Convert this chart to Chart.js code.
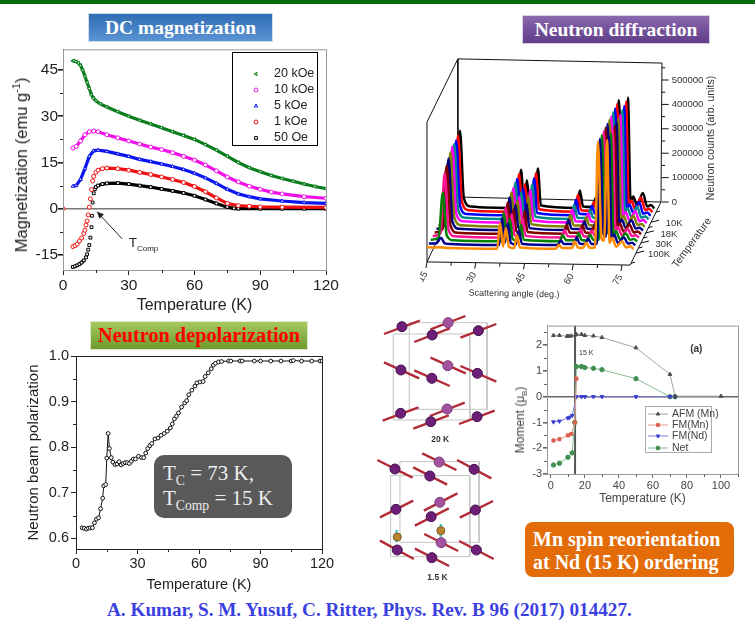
<!DOCTYPE html>
<html lang="en">
<head>
    <meta charset="UTF-8">
    <title>Mn spin reorientation</title>
    <style>
        * { margin: 0; padding: 0; box-sizing: border-box; }
        body { width: 755px; height: 620px; background: #fff; position: relative; overflow: hidden; font-family: "Liberation Sans", Arial, sans-serif; }
        canvas { position: absolute; }
        .topbar { position: absolute; left: 0; top: 0; width: 755px; height: 4px; background: #086a08; }
        .badge { position: absolute; display: flex; align-items: center; justify-content: center; font-family: "Liberation Serif", serif; font-weight: bold; font-size: 19.5px; color: #fff; }
        .txt { position: absolute; white-space: nowrap; }
        .rot { transform: translate(-50%, -50%) rotate(-90deg); }
        sub, sup { font-size: 65%; line-height: 0; }
    </style>
</head>
<body>
    <div class="topbar"></div>

    <div class="badge" style="left:88px;top:13px;width:185px;height:29px;background:linear-gradient(#2f6db4,#5b93d3);border:1px solid #cfdcea;">DC magnetization</div>
    <div class="badge" style="left:522px;top:15px;width:188px;height:29px;background:linear-gradient(#8a68ae,#5f3d88);border:1px solid #d8cfe2;">Neutron diffraction</div>
    <div class="badge" style="left:90px;top:321px;width:218px;height:29px;font-size:20.3px;background:linear-gradient(#a6c860,#6d9a2c);color:#f00;border:1px solid #dde8c8;">Neutron depolarization</div>

    <canvas id="magChart" width="345" height="275" style="left:0;top:40px"></canvas>
    <canvas id="diffChart" width="320" height="250" style="left:420px;top:50px;filter:blur(.35px)"></canvas>
    <canvas id="polChart" width="345" height="249" style="left:0;top:345px"></canvas>
    <canvas id="cellChart" width="133" height="280" style="left:370px;top:310px;filter:blur(.5px)"></canvas>
    <canvas id="momentChart" width="240" height="188" style="left:515px;top:318px;filter:blur(.6px)"></canvas>

    <div class="txt rot" style="left:22px;top:165px;font-size:16.6px;color:#222;">Magnetization (emu g<sup>-1</sup>)</div>
    <div class="txt" style="left:129px;top:235px;font-size:13px;color:#222;">T<sub style="font-size:8px">Comp</sub></div>
    <div class="txt rot" style="left:520px;top:420px;font-size:12px;color:#444;filter:blur(.4px)">Moment (&mu;<sub>B</sub>)</div>

    <div class="txt" style="left:154px;top:455px;width:138px;height:63px;background:#595959;border-radius:10px;"></div>
    <div class="txt" style="left:163px;top:461px;font:21px 'Liberation Serif',serif;color:#eee;line-height:25px;">T<sub>C</sub> = 73 K,<br>T<sub>Comp</sub> = 15 K</div>

    <div class="txt" style="left:525px;top:522px;width:209px;height:55px;background:#e36c09;border-radius:8px;"></div>
    <div class="txt" style="left:533px;top:528px;font:bold 20px 'Liberation Serif',serif;color:#fff;line-height:23px;">Mn spin reorientation<br>at Nd (15 K) ordering</div>

    <div class="txt" style="left:107px;top:599px;font:bold 19.2px 'Liberation Serif',serif;color:#3b3fe0;">A. Kumar, S. M. Yusuf, C. Ritter, Phys. Rev. B 96 (2017) 014427.</div>

    <script src="https://cdn.jsdelivr.net/npm/chart.js"></script>
    <script>
        // DC magnetization
        const magXTicks = [0, 30, 60, 90, 120];
        const magYTicks = [-15, 0, 15, 30, 45];
        const t20k = [4.5,5,6,7,8,9,10,11,12,13,14,15,17,20,25,30,35,40,45,50,55,60,65,70,75,80,85,90,95,100,105,110,115,120];
        const m20k = [48,48,47.7,47.3,46.5,45,43,41,39,37,35.8,35,34,33,31.5,30,28.7,27.5,26.3,25,23.8,22.5,20.8,19,17,15,13.3,12,10.8,9.8,8.9,8,7.2,6.5];
        const t10k = [4.5,6,8,10,12,14,16,20,25,30,35,40,45,50,55,60,65,70,75,80,85,90,95,100,110,120];
        const m10k = [19.7,20.2,22,24,25,25.2,25,24,23,22,21,20,19.2,18.2,17,15.8,14.2,12.3,10.3,8.7,7.3,6.3,5.4,4.8,3.9,3.4];
        const t5k = [4.5,6,8,10,12,14,16,20,25,30,35,40,45,50,55,60,65,70,75,80,85,90,100,110,120];
        const m5k = [7.3,7.5,9.5,13,17,18.8,19,18.6,17.8,17,16,15.3,14.5,13.7,12.7,11.5,10,8.2,6.3,4.8,3.9,3.2,2.5,2,1.7];
        const t1k = [0,4.5,5.5,6.5,7.5,8.5,9.5,10,10.5,11,11.5,12,12.5,13,13.5,14,15,16,18,20,25,30,35,40,45,50,55,60,65,70,75,80,85,90,100,120];
        const m1k = [0,-12.3,-12,-11.5,-10.5,-9.5,-8,-7,-5.3,-4,-2,0.5,3.2,6.2,9,10.5,11.8,12.5,13,13.2,13,12.5,11.8,11.1,10.3,9.5,8.5,7.2,5.5,3.5,1.7,1,0.8,0.6,0.5,0.4];
        const t50 = [4.5,5.5,6.5,7.5,8.5,9.5,10.5,11,11.5,12,12.5,13,13.2,13.5,14,14.5,15,16,18,20,25,30,35,40,45,50,55,60,65,70,75,78,80,90,100,110,120];
        const m50 = [-18.9,-18.7,-18.4,-18,-17.5,-16.8,-15.8,-14.8,-13.3,-11.8,-9.4,-6,-2.3,2,5,6.3,7,7.5,8,8.2,8.3,8,7.5,7,6.4,5.8,5.1,4.2,3,1.7,0.5,0.1,0,0,0,0,0];

        // Neutron depolarization
        const polXTicks = [0, 30, 60, 90, 120];
        const polYTicks = [0.6, 0.7, 0.8, 0.9, 1.0];
        const polYLabels = ["0.6", "0.7", "0.8", "0.9", "1.0"];
        const polT = [3,4,5,6,7,8,9,10,11,12,13,13.5,14.5,15,15.7,16.3,17.2,18,19,20,21,22,23,24,25,26,27,28,29,30.5,32,33,34,35,36,37,38.5,40,41.5,43,44.5,46,47,48,49,50,51.5,53,54,55,56.5,58,59,60.5,62,63,64.5,66,67,68,69.5,71,74.5,75.5,80,81,87,90,95,100,105,106,110,115,119,120];
        const polP = [.623,.622,.62,.622,.623,.623,.634,.642,.645,.665,.688,.715,.718,.776,.83,.797,.777,.767,.762,.763,.768,.761,.764,.766,.766,.764,.769,.774,.774,.78,.777,.777,.787,.797,.803,.808,.818,.82,.826,.83,.835,.842,.851,.862,.868,.875,.888,.897,.902,.915,.925,.934,.941,.943,.944,.955,.963,.972,.98,.984,.987,.988,.989,.989,.989,.989,.989,.989,.989,.989,.989,.99,.989,.989,.989,.989];

        // Moment vs temperature
        const momXTicks = [0, 20, 40, 60, 80, 100];
        const momYTicks = [-3, -2, -1, 0, 1, 2];
        const afmT = [1.5,5,9.5,10.5,12,14.5,15,18,20,25,30,50,70,73,100];
        const afmM = [2.38,2.38,2.35,2.35,2.36,2.4,2.42,2.42,2.38,2.36,2.3,1.9,0.87,0.02,0.02];
        const fmMnT = [1.5,5,10,12,14,15];
        const fmMnM = [-1.7,-1.65,-1.5,-1.45,-1,0.7];
        const fmNdT = [1.5,5,10,11,12.5,15,18,20,25,30,50,70,73];
        const fmNdM = [-.98,-.95,-.83,-.8,-.73,0,0,0,0,0,0,0,0];
        const netT = [1.5,5,10,12.5,14,15,18,20,25,30,50,70,73];
        const netM = [-2.65,-2.58,-2.35,-2.18,-1,1.17,1.17,1.13,1.1,1.05,.7,0,0];

        // Neutron diffraction, counts in thousands, back (black) to front (orange)
        const diffAngles = [15,17.4,18.7,19.9,22,36.6,37.5,38.4,39.3,40.2,41.8,42.7,43.6,54.6,55.6,56.6,59.6,60.5,61.4,63,64,65,66.7,67.6,68.7,69.5,70.4,71.2,72,73.2,75,76.3,77.5,78.5];
        const diffColors = ["#000000","#ff0000","#0000ff","#008b8b","#ff00ff","#808000","#000080","#800000","#ff1493","#008000","#000090","#ff8c00"];
        const diff01 = [14,30,325,50,14,8,165,22,122,20,10,170,18,8,80,14,12,50,14,12,42,14,14,450,55,45,460,35,55,18,70,14,20,6];
        const diff02 = [14,30,320,48,14,8,162,22,120,20,10,165,18,8,76,14,12,48,14,12,41,14,14,448,55,45,458,35,54,18,66,14,20,6];
        const diff03 = [13,30,315,47,13,8,158,21,118,19,10,160,17,8,72,14,12,47,14,12,40,14,14,446,54,44,455,34,53,18,62,14,19,6];
        const diff04 = [13,28,315,46,13,8,155,21,116,19,10,150,17,8,66,13,12,46,14,12,39,13,14,445,54,44,452,34,52,17,58,14,18,6];
        const diff05 = [13,28,320,45,13,8,150,20,114,18,9,140,16,8,60,13,12,45,13,11,38,13,13,444,53,43,450,33,51,17,54,13,18,6];
        const diff06 = [12,27,310,44,12,7,146,20,112,18,9,130,16,7,54,12,11,44,13,11,37,13,13,443,53,43,449,33,50,16,50,13,17,5];
        const diff07 = [12,26,300,42,12,7,140,19,110,17,9,115,15,7,48,12,11,42,13,11,36,12,13,442,52,42,448,32,50,16,47,13,17,5];
        const diff08 = [12,25,285,40,11,7,134,18,106,16,8,100,14,7,42,11,11,41,12,10,35,12,12,441,52,42,447,32,49,15,44,12,16,5];
        const diff09 = [12,24,270,36,11,6,128,18,102,16,8,85,13,6,36,11,10,40,12,10,34,11,12,441,51,41,446,31,49,15,41,12,16,5];
        const diff10 = [12,20,205,30,10,6,122,16,98,15,8,74,12,6,30,10,10,38,11,9,33,11,12,440,50,40,446,30,48,14,38,12,15,5];
        const diff11 = [12,13,35,12,9,5,116,15,94,14,7,66,11,5,24,9,9,36,11,9,31,10,11,440,50,40,448,30,48,14,36,11,15,4];
        const diff12 = [12,10,11,10,8,5,110,14,90,13,7,60,10,5,20,8,8,35,10,8,30,9,10,443,48,38,450,28,50,13,35,10,15,4];
        const diffSeries = [diff01,diff02,diff03,diff04,diff05,diff06,diff07,diff08,diff09,diff10,diff11,diff12];
        const angleTicks = [15, 30, 45, 60, 75];
        const countTicks = [0, 100, 200, 300, 400, 500];
        const countLabels = ["0", "100000", "200000", "300000", "400000", "500000"];
        const tempLabels = ["10K", "18K", "30K", "100K"];

        // Crystal cells, [x1, y1, x2, y2] for edges and spins, [x, y] for atoms
        const cellEdges = [
            [70,72,300,72],[300,72,300,330],[300,330,70,330],[70,330,70,72],
            [118,38,352,38],[352,38,352,298],[352,298,118,298],[118,298,118,38],
            [62,497,300,497],[300,497,300,740],[300,740,62,740],[62,740,62,497],
            [90,455,328,455],[328,455,328,697],[328,697,90,697],[90,697,90,455]
        ];
        const mnSpins = [
            [42,72,150,32],[182,58,287,18],[133,96,240,55],[272,83,380,42],
            [42,157,148,205],[182,143,288,190],[133,181,240,228],[272,168,380,215],
            [38,332,146,292],[180,318,285,278],[130,356,237,316],[268,342,375,302],
            [22,450,128,503],[157,430,260,480],[130,472,232,524],[262,450,365,505],
            [30,622,130,572],[162,602,263,550],[135,647,237,595],[270,623,370,573],
            [30,692,132,747],[163,672,265,723],[135,716,238,768],[268,693,372,747]
        ];
        const mnAtomsFront = [[96,50],[187,75],[326,62],[93,180],[186,205],[323,190],[92,310],[183,335],[322,320],[75,477],[180,498],[313,478],[78,598],[184,620],[317,600],[82,720],[186,743],[320,720]];
        const mnAtomsBack = [[235,38],[234,167],[232,297],[208,456],[210,577],[214,698]];
        const ndSpins = [[80,660,80,697],[213,642,213,680]];
        const ndAtoms = [[82,681],[213,662]];

        function xy(xs, ys) {
            return xs.map((x, i) => ({ x: x, y: ys[i] }));
        }
        function segments(list) {
            const out = [];
            list.forEach(s => {
                out.push({ x: s[0], y: s[1] }, { x: s[2], y: s[3] }, { x: NaN, y: NaN });
            });
            return out;
        }
        function points(list) {
            return list.map(p => ({ x: p[0], y: p[1] }));
        }
        function fixedTicks(list) {
            return scale => { scale.ticks = list.map(v => ({ value: v })); };
        }

        // minor ticks and the thin top/right frame lines
        Chart.register({
            id: "frameTicks",
            afterDraw(chart, args, opts) {
                if (!opts.color) return;
                const ctx = chart.ctx, a = chart.chartArea, sx = chart.scales.x, sy = chart.scales.y;
                ctx.save();
                ctx.strokeStyle = opts.color;
                ctx.lineWidth = 1;
                ctx.strokeRect(a.left + .5, a.top + .5, a.right - a.left, a.bottom - a.top);
                ctx.strokeStyle = opts.tickColor;
                (opts.minorX || []).forEach(v => {
                    const x = Math.round(sx.getPixelForValue(v)) + .5;
                    ctx.beginPath(); ctx.moveTo(x, a.bottom); ctx.lineTo(x, a.bottom + 3); ctx.stroke();
                });
                (opts.minorY || []).forEach(v => {
                    const y = Math.round(sy.getPixelForValue(v)) + .5;
                    ctx.beginPath(); ctx.moveTo(a.left, y); ctx.lineTo(a.left - 3, y); ctx.stroke();
                });
                ctx.restore();
            }
        });

        // legend in a box placed by hand
        Chart.register({
            id: "boxLegend",
            afterDraw(chart, args, opts) {
                if (!opts.box) return;
                const ctx = chart.ctx;
                ctx.save();
                ctx.strokeStyle = opts.border;
                ctx.lineWidth = opts.borderWidth;
                ctx.strokeRect(opts.box[0], opts.box[1], opts.box[2], opts.box[3]);
                chart.data.datasets.forEach((ds, i) => {
                    const y = opts.rows[i];
                    if (opts.lineFrom !== undefined) {
                        ctx.strokeStyle = ds.borderColor;
                        ctx.lineWidth = 1;
                        ctx.beginPath(); ctx.moveTo(opts.lineFrom, y); ctx.lineTo(opts.lineTo, y); ctx.stroke();
                    }
                    ctx.strokeStyle = ds.pointBorderColor;
                    ctx.fillStyle = ds.pointBackgroundColor;
                    ctx.lineWidth = 1;
                    Chart.helpers.drawPoint(ctx, {
                        pointStyle: ds.pointStyle, rotation: ds.pointRotation || 0,
                        radius: opts.markerSize, borderWidth: 1
                    }, opts.markerX, y);
                    ctx.fillStyle = opts.textColor;
                    ctx.font = opts.font;
                    ctx.textAlign = "left";
                    ctx.textBaseline = "middle";
                    ctx.fillText(ds.label, opts.textX, y);
                });
                ctx.restore();
            }
        });

        function magSet(label, color, style, xs, ys, gap, rotation) {
            return {
                label: label, data: xy(xs, ys), showLine: true, borderColor: color, borderWidth: 3.2,
                pointStyle: style, pointRotation: rotation || 0, pointRadius: 2, pointBorderWidth: 1,
                pointBorderColor: color, pointBackgroundColor: "#fff",
                // the steep part at low temperature shows single markers, no line
                segment: { borderColor: c => c.p0.parsed.x < 15 && Math.abs(c.p1.parsed.y - c.p0.parsed.y) > gap ? "transparent" : color }
            };
        }

        new Chart(document.getElementById("magChart"), {
            type: "scatter",
            data: { datasets: [
                magSet("20 kOe", "#0a7d1c", "triangle", t20k, m20k, 50, -90),
                magSet("10 kOe", "#f010e8", "circle", t10k, m10k, 50),
                magSet("5 kOe", "#0a14f0", "triangle", t5k, m5k, 50),
                magSet("1 kOe", "#f01010", "circle", t1k, m1k, 0.9),
                magSet("50 Oe", "#000000", "rect", t50, m50, 0.9)
            ] },
            plugins: [{
                id: "compArrow",
                afterDraw(chart) {
                    const ctx = chart.ctx, sx = chart.scales.x, sy = chart.scales.y;
                    const x1 = sx.getPixelForValue(27), y1 = sy.getPixelForValue(-9.8);
                    const x2 = sx.getPixelForValue(15.5), y2 = sy.getPixelForValue(-1);
                    ctx.save();
                    ctx.strokeStyle = ctx.fillStyle = "#222";
                    ctx.lineWidth = 1;
                    ctx.beginPath(); ctx.moveTo(x1, y1); ctx.lineTo(x2, y2); ctx.stroke();
                    ctx.beginPath(); ctx.moveTo(x2, y2); ctx.lineTo(x2 + 7, y2 + 2.5); ctx.lineTo(x2 + 2.5, y2 + 7); ctx.fill();
                    ctx.restore();
                }
            }],
            options: {
                responsive: false, animation: false,
                layout: { autoPadding: false, padding: { top: 9, right: 19 } },
                plugins: {
                    legend: { display: false }, tooltip: { enabled: false },
                    frameTicks: { color: "#999", tickColor: "#222", minorX: [15, 45, 75, 105], minorY: [-7.5, 7.5, 22.5, 37.5] },
                    boxLegend: {
                        box: [232.5, 12.5, 85, 93], border: "#000", borderWidth: 1, rows: [34, 50, 66, 82, 98],
                        markerX: 256, markerSize: 2, textX: 274, textColor: "#222", font: "12.5px 'Liberation Sans'"
                    }
                },
                scales: {
                    x: {
                        type: "linear", min: 0, max: 120, afterBuildTicks: fixedTicks(magXTicks),
                        afterFit: s => { s.height = 45; },
                        grid: { drawOnChartArea: false, tickLength: 5, tickColor: "#222" },
                        border: { color: "#222" },
                        ticks: { color: "#222", font: { size: 15.5 }, padding: 1, maxRotation: 0, autoSkip: false },
                        title: { display: true, text: "Temperature (K)", color: "#222", font: { size: 16 }, padding: { top: 0, bottom: 0 } }
                    },
                    y: {
                        min: -19.9, max: 51.75, afterBuildTicks: fixedTicks(magYTicks),
                        afterFit: s => { s.width = 63; },
                        grid: { color: c => c.tick && c.tick.value === 0 ? "#777" : "transparent", lineWidth: 1.6, tickLength: 5, tickColor: "#222" },
                        border: { color: "#222" },
                        ticks: { color: "#222", font: { size: 15.5 }, padding: 0, autoSkip: false }
                    }
                }
            }
        });

        new Chart(document.getElementById("polChart"), {
            type: "scatter",
            data: { datasets: [{
                label: "Polarization", data: xy(polT, polP), showLine: true, borderColor: "#111", borderWidth: 1,
                pointRadius: 1.9, pointBorderWidth: 1, pointBorderColor: "#111", pointBackgroundColor: "#fff"
            }] },
            options: {
                responsive: false, animation: false,
                layout: { autoPadding: false, padding: { top: 11, right: 23 } },
                plugins: {
                    legend: { display: false }, tooltip: { enabled: false },
                    frameTicks: { color: "#222", tickColor: "#222", minorX: [15, 45, 75, 105], minorY: [.65, .75, .85, .95] }
                },
                scales: {
                    x: {
                        type: "linear", min: 0, max: 120, afterBuildTicks: fixedTicks(polXTicks),
                        afterFit: s => { s.height = 45; },
                        grid: { drawOnChartArea: false, tickLength: 5, tickColor: "#222" },
                        border: { color: "#222" },
                        ticks: { color: "#222", font: { size: 14.5 }, padding: 1, maxRotation: 0, autoSkip: false },
                        title: { display: true, text: "Temperature (K)", color: "#222", font: { size: 14.5 }, padding: { top: 0, bottom: 0 } }
                    },
                    y: {
                        min: 0.5765, max: 1.0, afterBuildTicks: fixedTicks(polYTicks),
                        afterFit: s => { s.width = 76; },
                        grid: { drawOnChartArea: false, tickLength: 5, tickColor: "#222" },
                        border: { color: "#222" },
                        ticks: { color: "#222", font: { size: 14.5 }, padding: 2, autoSkip: false, callback: (v, i) => polYLabels[i] },
                        title: { display: true, text: "Neutron beam polarization", color: "#222", font: { size: 15 }, padding: { top: 25, bottom: 0 } }
                    }
                }
            }
        });

        function momSet(label, lineColor, color, style, xs, ys, rotation) {
            return {
                label: label, data: xy(xs, ys), showLine: true, borderColor: lineColor, borderWidth: 1,
                pointStyle: style, pointRotation: rotation || 0, pointRadius: 2.2, pointBorderWidth: 1,
                pointBorderColor: color, pointBackgroundColor: color
            };
        }

        new Chart(document.getElementById("momentChart"), {
            type: "scatter",
            data: { datasets: [
                momSet("AFM (Mn)", "#a5a5a5", "#4d4d4d", "triangle", afmT, afmM),
                momSet("FM(Mn)", "#e29a90", "#d9604f", "rect", fmMnT, fmMnM),
                momSet("FM(Nd)", "#7a7de0", "#3a3fd0", "triangle", fmNdT, fmNdM, 180),
                momSet("Net", "#86bd93", "#3f8f52", "circle", netT, netM)
            ] },
            plugins: [{
                id: "momentMarks",
                beforeDatasetsDraw(chart) {
                    const ctx = chart.ctx, a = chart.chartArea, x = chart.scales.x.getPixelForValue(14.2);
                    ctx.save();
                    ctx.strokeStyle = "#555";
                    ctx.lineWidth = 2;
                    ctx.beginPath(); ctx.moveTo(x, a.top); ctx.lineTo(x, a.bottom); ctx.stroke();
                    ctx.restore();
                },
                afterDraw(chart) {
                    const ctx = chart.ctx;
                    ctx.save();
                    ctx.fillStyle = "#333";
                    ctx.font = "bold 10px 'Liberation Sans'";
                    ctx.textAlign = "center";
                    ctx.textBaseline = "middle";
                    ctx.fillText("(a)", chart.scales.x.getPixelForValue(85.5), chart.scales.y.getPixelForValue(1.83));
                    ctx.font = "7px 'Liberation Sans'";
                    ctx.fillText("15 K", chart.scales.x.getPixelForValue(20.8), chart.scales.y.getPixelForValue(1.68));
                    ctx.restore();
                }
            }],
            options: {
                responsive: false, animation: false,
                layout: { autoPadding: false, padding: { top: 7, right: 17 } },
                plugins: {
                    legend: { display: false }, tooltip: { enabled: false },
                    frameTicks: { color: "#999", tickColor: "#666", minorX: [10, 30, 50, 70, 90, 110], minorY: [-2.5, -1.5, -.5, .5, 1.5, 2.5] },
                    boxLegend: {
                        box: [130.5, 88.5, 66, 46], border: "#aaa", borderWidth: 1, rows: [96, 107, 118, 130],
                        lineFrom: 133, lineTo: 153, markerX: 143, markerSize: 2, textX: 157, textColor: "#444", font: "10.5px 'Liberation Sans'"
                    }
                },
                scales: {
                    x: {
                        type: "linear", min: -2.3, max: 110, afterBuildTicks: fixedTicks(momXTicks),
                        afterFit: s => { s.height = 32; },
                        grid: { drawOnChartArea: false, tickLength: 4, tickColor: "#666" },
                        border: { color: "#999" },
                        ticks: { color: "#444", font: { size: 11 }, padding: 1, maxRotation: 0, autoSkip: false },
                        title: { display: true, text: "Temperature (K)", color: "#444", font: { size: 12 }, padding: { top: 0, bottom: 0 } }
                    },
                    y: {
                        min: -3, max: 2.76, afterBuildTicks: fixedTicks(momYTicks),
                        afterFit: s => { s.width = 32; },
                        grid: { color: c => c.tick && c.tick.value === 0 ? "#666" : "transparent", lineWidth: 1.6, tickLength: 4, tickColor: "#666" },
                        border: { color: "#999" },
                        ticks: { color: "#444", font: { size: 11 }, padding: 1, autoSkip: false }
                    }
                }
            }
        });

        // waterfall: every series is sheared by its place in the stack
        const depthStepAngle = 0.585, depthStepCounts = 14.9, baseShift = 8;
        const diffSets = diffSeries.map((vals, i) => {
            const depth = diffSeries.length - 1 - i;
            return {
                label: "Series " + (i + 1),
                data: diffAngles.map((a, j) => ({ x: a + depth * depthStepAngle, y: vals[j] - baseShift + depth * depthStepCounts })),
                showLine: true, borderColor: diffColors[i], borderWidth: 2.5, pointRadius: 0,
                cubicInterpolationMode: "monotone", order: depth
            };
        });
        // box edges of the 3D frame, in the same angle / kilocount units
        const boxEdges = [
            [15,-57,77.5,-70],[77.5,-70,87,188.5],[87,188.5,24.5,209],[24.5,209,15,-57],
            [15,-57,15,516],[15,516,24.5,775],[24.5,775,87.3,758],[87.3,758,87,188.5],[24.5,775,24.5,209]
        ];
        diffSets.push({
            label: "Box", data: segments(boxEdges), showLine: true, borderColor: "#111", borderWidth: 1,
            pointRadius: 0, order: 50
        });

        new Chart(document.getElementById("diffChart"), {
            type: "scatter",
            data: { datasets: diffSets },
            plugins: [{
                id: "boxAxes",
                afterDraw(chart) {
                    const ctx = chart.ctx, sx = chart.scales.x, sy = chart.scales.y;
                    const px = a => sx.getPixelForValue(a), py = k => sy.getPixelForValue(k);
                    const tick = (x, y, dx, dy) => { ctx.beginPath(); ctx.moveTo(x, y); ctx.lineTo(x + dx, y + dy); ctx.stroke(); };
                    const label = (text, x, y, rot) => {
                        ctx.save(); ctx.translate(x, y); ctx.rotate(rot); ctx.fillText(text, 0, 0); ctx.restore();
                    };
                    ctx.save();
                    ctx.strokeStyle = "#111";
                    ctx.fillStyle = "#333";
                    ctx.lineWidth = 1;
                    ctx.textAlign = "center";
                    ctx.textBaseline = "middle";
                    ctx.font = "9.5px 'Liberation Sans'";
                    // counts axis on the back wall
                    countTicks.forEach((c, i) => {
                        tick(px(87.2), py(188.5 + c), 7, 0);
                        if (c < 500) tick(px(87.2), py(188.5 + c + 50), 3.5, 0);
                        label(countLabels[i], px(87.2) + 10 + ctx.measureText(countLabels[i]).width / 2, py(188.5 + c), 0);
                    });
                    tick(px(87.2), py(188.5 + 550), 3.5, 0);
                    // angle axis on the front edge
                    const edge = a => -57 - (a - 15) * 0.208;
                    angleTicks.forEach(a => {
                        tick(px(a), py(edge(a)), -1, 6);
                        if (a < 75) tick(px(a + 7.5), py(edge(a + 7.5)), -.5, 3.5);
                        label(String(a), px(a) - 4, py(edge(a)) + 15, -Math.PI / 3);
                    });
                    // temperature axis on the right edge
                    const along = f => [px(87) + (px(77.5) - px(87)) * f, py(188.5) + (py(-70) - py(188.5)) * f];
                    [.32, .49, .65, .81].forEach((f, i) => {
                        const p = along(f);
                        tick(p[0], p[1], 8, -2);
                        label(tempLabels[i], p[0] + 23, p[1] + 1, 0);
                    });
                    [.16, .405, .57, .73, .97].forEach(f => {
                        const p = along(f);
                        tick(p[0], p[1], 4, -1);
                    });
                    ctx.font = "10.5px 'Liberation Sans'";
                    label("Temperature", px(87) + 31, py(188.5) + 41, -Math.PI * 0.3);
                    label("Neutron counts (arb. units)", px(87) + 50, py(188.5) - 64, -Math.PI / 2);
                    ctx.font = "9px 'Liberation Sans'";
                    label("Scattering angle (deg.)", px(15) + 87, py(-57) + 32, 0.02);
                    ctx.restore();
                }
            }],
            options: {
                responsive: false, animation: false,
                layout: { autoPadding: false },
                plugins: { legend: { display: false }, tooltip: { enabled: false } },
                scales: {
                    x: { type: "linear", display: false, min: 12.85, max: 111.31 },
                    y: { display: false, min: -213.1, max: 811.5 }
                }
            }
        });

        // crystal cells at 20 K and 1.5 K
        new Chart(document.getElementById("cellChart"), {
            type: "scatter",
            data: { datasets: [
                { label: "Nd", data: points(ndAtoms), pointRadius: 4, pointBackgroundColor: "#b9822e", pointBorderColor: "#7d5a1e", order: 1 },
                { label: "Mn", data: points(mnAtomsFront), pointRadius: 5, pointBackgroundColor: "#6d1f78", pointBorderColor: "#43124d", pointBorderWidth: 1, order: 2 },
                { label: "Mn back", data: points(mnAtomsBack), pointRadius: 5, pointBackgroundColor: "#a2529f", pointBorderColor: "#7a3a7a", pointBorderWidth: 1, order: 3 },
                { label: "Nd spin", data: segments(ndSpins), showLine: true, borderColor: "#3fc4c0", borderWidth: 2.5, pointRadius: 0, order: 4 },
                { label: "Mn spin", data: segments(mnSpins), showLine: true, borderColor: "#b22b38", borderWidth: 2.4, pointRadius: 0, order: 5 },
                { label: "Cell", data: segments(cellEdges), showLine: true, borderColor: "#c4c4c4", borderWidth: 1, pointRadius: 0, order: 6 }
            ] },
            plugins: [{
                id: "cellLabels",
                afterDraw(chart) {
                    const ctx = chart.ctx, sx = chart.scales.x, sy = chart.scales.y;
                    ctx.save();
                    ctx.fillStyle = "#333";
                    ctx.font = "bold 8.5px 'Liberation Sans'";
                    ctx.textAlign = "center";
                    ctx.textBaseline = "middle";
                    ctx.fillText("20 K", sx.getPixelForValue(211), sy.getPixelForValue(388));
                    ctx.fillText("1.5 K", sx.getPixelForValue(203), sy.getPixelForValue(803));
                    ctx.restore();
                }
            }],
            options: {
                responsive: false, animation: false,
                layout: { autoPadding: false },
                plugins: { legend: { display: false }, tooltip: { enabled: false } },
                scales: {
                    x: { type: "linear", display: false, min: 0, max: 400 },
                    y: { display: false, min: 0, max: 840, reverse: true }
                }
            }
        });
    </script>
</body>
</html>
